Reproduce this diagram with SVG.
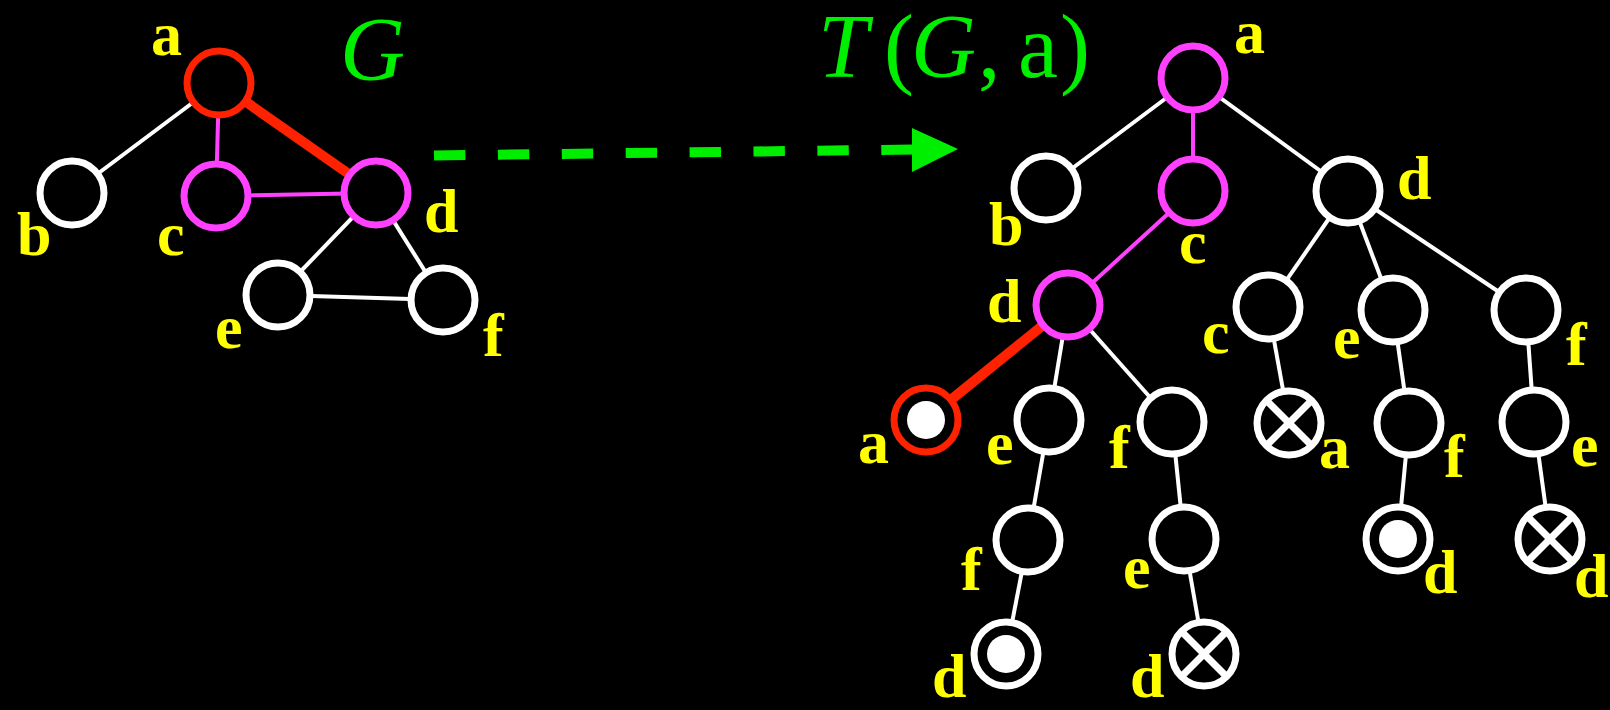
<svg xmlns="http://www.w3.org/2000/svg" width="1610" height="710" viewBox="0 0 1610 710">
<style>
.bg{fill:#000}
.n{fill:#000;stroke:#fff;stroke-width:7}
.nm{fill:#000;stroke:#ff40ff;stroke-width:7}
.nr{fill:#000;stroke:#ff2200;stroke-width:7}
.dot{fill:#fff}
.x{stroke:#fff;stroke-width:7}
.e{stroke:#fff;stroke-width:4;fill:none}
.em{stroke:#ff40ff;stroke-width:4;fill:none}
.er{stroke:#ff2200;stroke-width:10;fill:none}
.lb{font-family:"Liberation Serif",serif;font-weight:bold;font-size:62px;fill:#ffff00}
.gt{font-family:"Liberation Serif",serif;font-size:90px;fill:#00ee00}
.it{font-style:italic}
</style>
<rect class="bg" x="0" y="0" width="1610" height="710"/>
<g id="connectors">
  <line class="e" x1="219" y1="83" x2="72" y2="193"/>
  <line class="em" x1="219" y1="83" x2="216" y2="196"/>
  <line class="er" x1="219" y1="83" x2="376" y2="193"/>
  <line class="em" x1="216" y1="196" x2="376" y2="193"/>
  <line class="e" x1="376" y1="193" x2="278" y2="295"/>
  <line class="e" x1="376" y1="193" x2="443" y2="300"/>
  <line class="e" x1="278" y1="295" x2="443" y2="300"/>
  <line x1="434" y1="155.5" x2="914" y2="149.5" stroke="#00ee00" stroke-width="10" stroke-dasharray="31.4 32.5"/>
  <polygon points="912,128 958,149 912,172" fill="#00ee00"/>
  <line class="e" x1="1193" y1="78" x2="1046" y2="188"/>
  <line class="em" x1="1193" y1="78" x2="1193" y2="191"/>
  <line class="e" x1="1193" y1="78" x2="1348" y2="191"/>
  <line class="em" x1="1193" y1="191" x2="1068" y2="305"/>
  <line class="er" x1="1068" y1="305" x2="926" y2="420"/>
  <line class="e" x1="1068" y1="305" x2="1049" y2="420"/>
  <line class="e" x1="1068" y1="305" x2="1172" y2="422"/>
  <line class="e" x1="1348" y1="191" x2="1268" y2="307"/>
  <line class="e" x1="1348" y1="191" x2="1393" y2="310"/>
  <line class="e" x1="1348" y1="191" x2="1526" y2="310"/>
  <line class="e" x1="1268" y1="307" x2="1289" y2="423"/>
  <line class="e" x1="1393" y1="310" x2="1409" y2="423"/>
  <line class="e" x1="1526" y1="310" x2="1534" y2="422"/>
  <line class="e" x1="1049" y1="420" x2="1028" y2="540"/>
  <line class="e" x1="1172" y1="422" x2="1184" y2="539"/>
  <line class="e" x1="1409" y1="423" x2="1398" y2="539"/>
  <line class="e" x1="1534" y1="422" x2="1550" y2="539"/>
  <line class="e" x1="1028" y1="540" x2="1006" y2="654"/>
  <line class="e" x1="1184" y1="539" x2="1204" y2="654"/>
</g>
<g id="G-a"><circle class="nr" cx="219" cy="83" r="32"/><text class="lb" x="151" y="55">a</text></g>
<g id="G-b"><circle class="n" cx="72" cy="193" r="32"/><text class="lb" x="17" y="255">b</text></g>
<g id="G-c"><circle class="nm" cx="216" cy="196" r="32"/><text class="lb" x="157" y="255">c</text></g>
<g id="G-d"><circle class="nm" cx="376" cy="193" r="32"/><text class="lb" x="424" y="232">d</text></g>
<g id="G-e"><circle class="n" cx="278" cy="295" r="32"/><text class="lb" x="215" y="348">e</text></g>
<g id="G-f"><circle class="n" cx="443" cy="300" r="32"/><text class="lb" x="483" y="356">f</text></g>
<g id="label-G"><text class="gt it" x="340" y="80">G</text></g>
<g id="label-T"><text class="gt" y="77"><tspan class="it" x="818">T</tspan><tspan x="884">(</tspan><tspan class="it" x="911">G</tspan><tspan x="978">,</tspan><tspan x="1018">a</tspan><tspan x="1060">)</tspan></text></g>
<g id="T-a"><circle class="nm" cx="1193" cy="78" r="32"/><text class="lb" x="1234" y="53">a</text></g>
<g id="T-b"><circle class="n" cx="1046" cy="188" r="32"/><text class="lb" x="989" y="245">b</text></g>
<g id="T-c"><circle class="nm" cx="1193" cy="191" r="32"/><text class="lb" x="1179" y="263">c</text></g>
<g id="T-d"><circle class="n" cx="1348" cy="191" r="32"/><text class="lb" x="1397" y="199">d</text></g>
<g id="T-cd"><circle class="nm" cx="1068" cy="305" r="32"/><text class="lb" x="987" y="322">d</text></g>
<g id="T-dc"><circle class="n" cx="1268" cy="307" r="32"/><text class="lb" x="1202" y="353">c</text></g>
<g id="T-de"><circle class="n" cx="1393" cy="310" r="32"/><text class="lb" x="1333" y="358">e</text></g>
<g id="T-df"><circle class="n" cx="1526" cy="310" r="32"/><text class="lb" x="1566" y="365">f</text></g>
<g id="T-cda"><circle class="nr" cx="926" cy="420" r="32"/><circle class="dot" cx="926" cy="420" r="19"/><text class="lb" x="858" y="463">a</text></g>
<g id="T-cde"><circle class="n" cx="1049" cy="420" r="32"/><text class="lb" x="986" y="464">e</text></g>
<g id="T-cdf"><circle class="n" cx="1172" cy="422" r="32"/><text class="lb" x="1109" y="468">f</text></g>
<g id="T-dca"><circle class="n" cx="1289" cy="423" r="32"/><line class="x" x1="1266" y1="400" x2="1312" y2="446"/><line class="x" x1="1312" y1="400" x2="1266" y2="446"/><text class="lb" x="1319" y="468">a</text></g>
<g id="T-def"><circle class="n" cx="1409" cy="423" r="32"/><text class="lb" x="1444" y="477">f</text></g>
<g id="T-dfe"><circle class="n" cx="1534" cy="422" r="32"/><text class="lb" x="1571" y="466">e</text></g>
<g id="T-cdef"><circle class="n" cx="1028" cy="540" r="32"/><text class="lb" x="961" y="590">f</text></g>
<g id="T-cdfe"><circle class="n" cx="1184" cy="539" r="32"/><text class="lb" x="1123" y="588">e</text></g>
<g id="T-defd"><circle class="n" cx="1398" cy="539" r="32"/><circle class="dot" cx="1398" cy="539" r="19"/><text class="lb" x="1423" y="593">d</text></g>
<g id="T-dfed"><circle class="n" cx="1550" cy="539" r="32"/><line class="x" x1="1527" y1="516" x2="1573" y2="562"/><line class="x" x1="1573" y1="516" x2="1527" y2="562"/><text class="lb" x="1574" y="597">d</text></g>
<g id="T-cdefd"><circle class="n" cx="1006" cy="654" r="32"/><circle class="dot" cx="1006" cy="654" r="19"/><text class="lb" x="932" y="697">d</text></g>
<g id="T-cdfed"><circle class="n" cx="1204" cy="654" r="32"/><line class="x" x1="1181" y1="631" x2="1227" y2="677"/><line class="x" x1="1227" y1="631" x2="1181" y2="677"/><text class="lb" x="1130" y="697">d</text></g>
</svg>
